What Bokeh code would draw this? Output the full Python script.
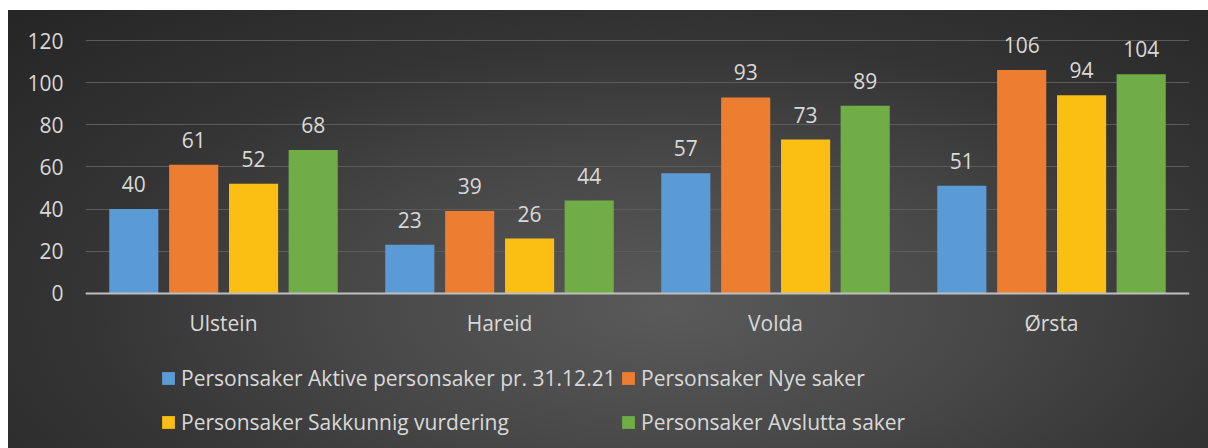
from bokeh.plotting import figure
from bokeh.models import ColumnDataSource, FactorRange, FixedTicker, Legend, LegendItem, Range1d
from bokeh.transform import dodge
from bokeh.embed import file_html
from bokeh.resources import INLINE
from bokeh.core.properties import value

# ---- data ----
categories = ["Ulstein", "Hareid", "Volda", "Ørsta"]
aktive = [40, 23, 57, 51]
nye = [61, 39, 93, 106]
sakkunnig = [52, 26, 73, 94]
avslutta = [68, 44, 89, 104]
series_names = [
    "Personsaker Aktive personsaker pr. 31.12.21",
    "Personsaker Nye saker",
    "Personsaker Sakkunnig vurdering",
    "Personsaker Avslutta saker",
]
y_ticks = [0, 20, 40, 60, 80, 100, 120]

# ---- style ----
FONT = "Open Sans"
TXT = "#d9d9d9"
colors = ["#5b9bd5", "#ed7d31", "#fbbf14", "#70ad47"]
offsets = [-0.325, -0.108, 0.109, 0.325]
bar_w = 0.178

series = [aktive, nye, sakkunnig, avslutta]
cols = ["aktive", "nye", "sakkunnig", "avslutta"]
data = {"cat": categories}
for c, s in zip(cols, series):
    data[c] = s
    data[c + "_lbl"] = [str(v) for v in s]
src = ColumnDataSource(data)

p = figure(
    x_range=FactorRange(*categories, range_padding=0),
    y_range=Range1d(-73.7, 134.25),
    width=1200, height=438,
    output_backend="svg", toolbar_location=None,
    min_border_left=77, min_border_right=19,
    min_border_top=0, min_border_bottom=0,
)
p.margin = (10, 0, 0, 8)
p.background_fill_alpha = 0
p.border_fill_alpha = 0
p.outline_line_color = None
p.styles = {
    "background": "radial-gradient(ellipse 75% 95% at 55% 68%, #5a5a5a 0%, #484848 35%, #343434 65%, #262626 100%)"
}

renderers = []
for i, c in enumerate(cols):
    r = p.vbar(x=dodge("cat", offsets[i], range=p.x_range), top=c, width=bar_w,
               source=src, fill_color=colors[i], line_color=None)
    renderers.append(r)
    p.text(x=dodge("cat", offsets[i], range=p.x_range), y=c, text=c + "_lbl", source=src,
           text_align="center", text_baseline="alphabetic", y_offset=-25,
           text_color=TXT, text_font=value(FONT), text_font_size="21px")

p.xgrid.grid_line_color = None
p.ygrid.grid_line_color = "#5c5c5c"
p.ygrid.grid_line_width = 1
p.ygrid.ticker = FixedTicker(ticks=y_ticks)

p.yaxis.ticker = FixedTicker(ticks=y_ticks)
p.yaxis.axis_line_color = None
p.yaxis.major_tick_line_color = None
p.yaxis.minor_tick_line_color = None
p.yaxis.major_label_standoff = 16
p.yaxis.major_label_text_color = TXT
p.yaxis.major_label_text_font = FONT
p.yaxis.major_label_text_font_size = "21px"

p.xaxis.fixed_location = 0
p.xaxis.axis_line_color = "#bfbfbf"
p.xaxis.axis_line_width = 2
p.xaxis.major_tick_line_color = None
p.xaxis.minor_tick_line_color = None
p.xaxis.major_label_standoff = 10
p.xaxis.major_label_text_color = TXT
p.xaxis.major_label_text_font = FONT
p.xaxis.major_label_text_font_size = "21px"


def make_legend(idx, loc):
    leg = Legend(
        items=[LegendItem(label=series_names[i], renderers=[renderers[i]]) for i in idx],
        location=loc, orientation="vertical",
        background_fill_alpha=0, border_line_color=None,
        label_text_color=TXT, label_text_font=FONT, label_text_font_size="21px",
        glyph_width=16, glyph_height=16, label_standoff=5, label_height=28,
        spacing=16, padding=0, margin=0,
    )
    return leg


p.add_layout(make_legend([0, 2], (75, 12)))
p.add_layout(make_legend([1, 3], (535, 12)))

open("out.html", "w").write(file_html(p, INLINE))
